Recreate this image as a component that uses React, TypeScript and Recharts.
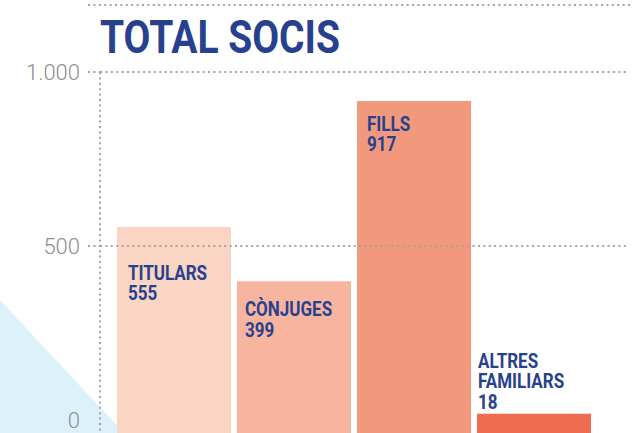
import React from 'react';
import { BarChart, Bar, XAxis, YAxis, ReferenceLine, LabelList, Cell } from 'recharts';

const categories = ['TITULARS', 'CÒNJUGES', 'FILLS', 'ALTRES FAMILIARS'];
const values = [555, 399, 917, 18];
const yTicks = [0, 500, 1000];
const gridValues = [500, 1000];
const barColors = ['#FAD5C4', '#F7B59F', '#F2997D', '#EE6C4F'];
const title = 'TOTAL SOCIS';

const Y_MIN = -37;
const Y_MAX = 1000;

const data = categories.map((c, i) => ({ name: c, value: values[i] }));

const DOT = '#A4A4A4';
const BLUE = '#27418F';
const DASH = '2 3.4';

// label placement relative to each bar's top edge (style config)
const LABEL_LAYOUT = [
  { dx: 11, dy: 53 },
  { dx: 8, dy: 35 },
  { dx: 10, dy: 30 },
  { dx: 1, dy: -46 },
];

const renderLabel = (props: any) => {
  const { x, y, height, index } = props;
  const top = Math.min(Number(y), Number(y) + Number(height));
  const lay = LABEL_LAYOUT[index];
  const lines = [...categories[index].split(' '), String(values[index])];
  return (
    <g>
      {lines.map((ln, k) => (
        <text
          key={k}
          transform={`translate(${Number(x) + lay.dx},${top + lay.dy + k * 20.5}) scale(0.85,1)`}
          fontFamily="Roboto"
          fontWeight={700}
          fontSize={20}
          fill={BLUE}
        >
          {ln}
        </text>
      ))}
    </g>
  );
};

const renderYTick = (props: any) => {
  const { x, y, payload } = props;
  const v = payload.value;
  const label = v >= 1000 ? v.toLocaleString('de-DE') : String(v);
  return (
    <g>
      {v !== 0 && (
        <line x1={x + 8} x2={x + 20} y1={y} y2={y} stroke={DOT} strokeWidth={2} strokeDasharray={DASH} />
      )}
      <text
        x={x}
        y={y}
        dy={7.5}
        textAnchor="end"
        fontFamily="Roboto"
        fontWeight={300}
        fontSize={22}
        fill="#8E8E8E"
      >
        {label}
      </text>
    </g>
  );
};

const chartProps = {
  width: 643,
  height: 433,
  data,
  margin: { top: 72, right: 14, bottom: 0, left: 0 },
  barCategoryGap: 3,
};

export default function App() {
  return (
    <div style={{ position: 'absolute', left: 0, top: 0, width: 643, height: 433, overflow: 'hidden', background: '#fff' }}>
      <svg width={643} height={433} style={{ position: 'absolute', left: 0, top: 0 }}>
        <polygon points="0,300 124,433 0,433" fill="#DDF1FB" />
        <line x1={88} x2={630} y1={5} y2={5} stroke={DOT} strokeWidth={2} strokeDasharray={DASH} />
        <text
          x={100}
          y={53}
          fontFamily="Roboto"
          fontWeight={700}
          fontSize={46}
          fill={BLUE}
          textLength={240}
          lengthAdjust="spacingAndGlyphs"
        >
          {title}
        </text>
      </svg>
      <div style={{ position: 'absolute', left: 0, top: 0 }}>
        <BarChart {...chartProps}>
          <XAxis dataKey="name" hide padding={{ left: 14, right: 35 }} />
          <YAxis
            type="number"
            domain={[Y_MIN, Y_MAX]}
            allowDataOverflow
            ticks={yTicks}
            width={100}
            tickLine={false}
            tickSize={12}
            tickMargin={8}
            axisLine={{ stroke: DOT, strokeWidth: 2, strokeDasharray: DASH }}
            tick={renderYTick}
            interval={0}
          />
          <Bar dataKey={(d: any) => [Y_MIN, d.value]} barSize={114} isAnimationActive={false}>
            {data.map((d, i) => (
              <Cell key={d.name} fill={barColors[i]} />
            ))}
          </Bar>
        </BarChart>
      </div>
      {/* overlay: dotted gridlines drawn over the bars, then the bar labels */}
      <div style={{ position: 'absolute', left: 0, top: 0 }}>
        <BarChart {...chartProps}>
          <XAxis dataKey="name" hide padding={{ left: 14, right: 35 }} />
          <YAxis
            type="number"
            domain={[Y_MIN, Y_MAX]}
            allowDataOverflow
            ticks={yTicks}
            width={100}
            tick={false}
            tickLine={false}
            axisLine={false}
          />
          {gridValues.map((g) => (
            <ReferenceLine key={g} y={g} stroke={DOT} strokeWidth={2} strokeDasharray={DASH} />
          ))}
          <Bar dataKey={(d: any) => [Y_MIN, d.value]} barSize={114} fill="none" isAnimationActive={false}>
            <LabelList content={renderLabel} />
          </Bar>
        </BarChart>
      </div>
    </div>
  );
}
